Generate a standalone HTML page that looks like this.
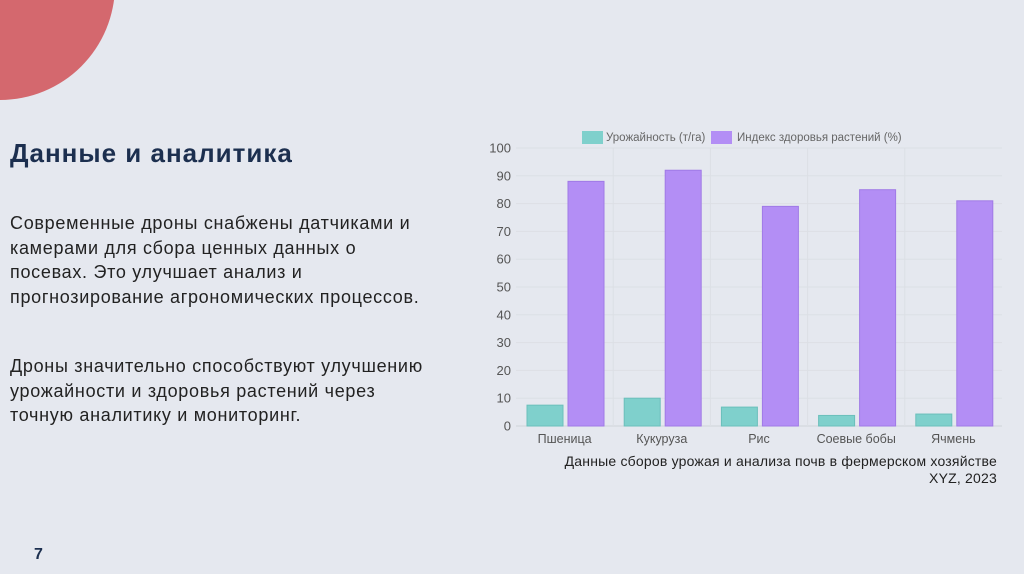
<!DOCTYPE html>
<html><head><meta charset="utf-8"><style>
body{margin:0;width:1024px;height:574px;background:#e5e8ef;font-family:"Liberation Sans",sans-serif;position:relative;overflow:hidden}
.circle{position:absolute;left:-115px;top:-130px;width:230px;height:230px;border-radius:50%;background:#d4686e}
h1{position:absolute;left:10px;top:138px;margin:0;font-size:26px;letter-spacing:1px;color:#1c2f4f;font-weight:bold;white-space:nowrap}
p{position:absolute;left:10px;margin:0;font-size:18px;letter-spacing:0.7px;line-height:24.5px;color:#222;white-space:nowrap}
.num{position:absolute;left:34px;top:546px;font-size:16px;font-weight:bold;color:#1c2f4f}
.cap{position:absolute;right:27px;top:453px;text-align:right;font-size:14px;letter-spacing:0.2px;line-height:17px;color:#222;white-space:nowrap}
</style></head><body>
<div class="circle"></div>
<h1>Данные и аналитика</h1>
<p style="top:211px">Современные дроны снабжены датчиками и<br>камерами для сбора ценных данных о<br>посевах. Это улучшает анализ и<br>прогнозирование агрономических процессов.</p>
<p style="top:354px">Дроны значительно способствуют улучшению<br>урожайности и здоровья растений через<br>точную аналитику и мониторинг.</p>
<div class="num">7</div>
<svg id="chart" width="1024" height="574" style="position:absolute;left:0;top:0"></svg>
<div class="cap">Данные сборов урожая и анализа почв в фермерском хозяйстве<br>XYZ, 2023</div>
<script>
const categories=["Пшеница","Кукуруза","Рис","Соевые бобы","Ячмень"];
const yieldVals=[7.5,10,6.8,3.8,4.3];
const healthVals=[88,92,79,85,81];
const yTicks=[0,10,20,30,40,50,60,70,80,90,100];
const seriesNames=["Урожайность (т/га)","Индекс здоровья растений (%)"];
const svg=document.getElementById('chart');const NS='http://www.w3.org/2000/svg';
const L=516,R=1002,T=148,B=426;
const y=v=>B-(v/100)*(B-T);
const bw=(R-L)/categories.length;
function el(t,a,txt){const e=document.createElementNS(NS,t);for(const k in a)e.setAttribute(k,a[k]);if(txt!=null)e.textContent=txt;svg.appendChild(e);return e;}
yTicks.forEach(t=>{
 const g=el('line',{x1:L,x2:R,y1:y(t),y2:y(t),stroke:t===0?'#d0d3da':'#dcdfe5','stroke-width':1});
 
 const tx=el('text',{x:511,y:y(t)+4.5,'text-anchor':'end','font-size':13,fill:'#555'},t);
 
});
categories.forEach((c,i)=>{
 if(i>0){const v=el('line',{x1:L+i*bw,x2:L+i*bw,y1:T,y2:B,stroke:'#dcdfe5'});}
 const x0=L+i*bw;
 const a=el('rect',{x:x0+11,y:y(yieldVals[i]),width:36,height:B-y(yieldVals[i]),fill:'#7fd0cc',stroke:'#6bbfbb'});
 
 const b=el('rect',{x:x0+52,y:y(healthVals[i]),width:36,height:B-y(healthVals[i]),fill:'#b38ef5',stroke:'#a07ae6'});
 
 const l=el('text',{x:x0+bw/2,y:443,'text-anchor':'middle','font-size':12.5,fill:'#555'},c);
 
});
const lg1=el('rect',{x:582,y:131,width:21,height:13,fill:'#7fd0cc'});
const lt1=el('text',{x:606,y:141,'font-size':11.5,fill:'#666'},seriesNames[0]);
const lg2=el('rect',{x:711,y:131,width:21,height:13,fill:'#b38ef5'});
const lt2=el('text',{x:737,y:141,'font-size':11.5,fill:'#666'},seriesNames[1]);
</script>
</body></html>
